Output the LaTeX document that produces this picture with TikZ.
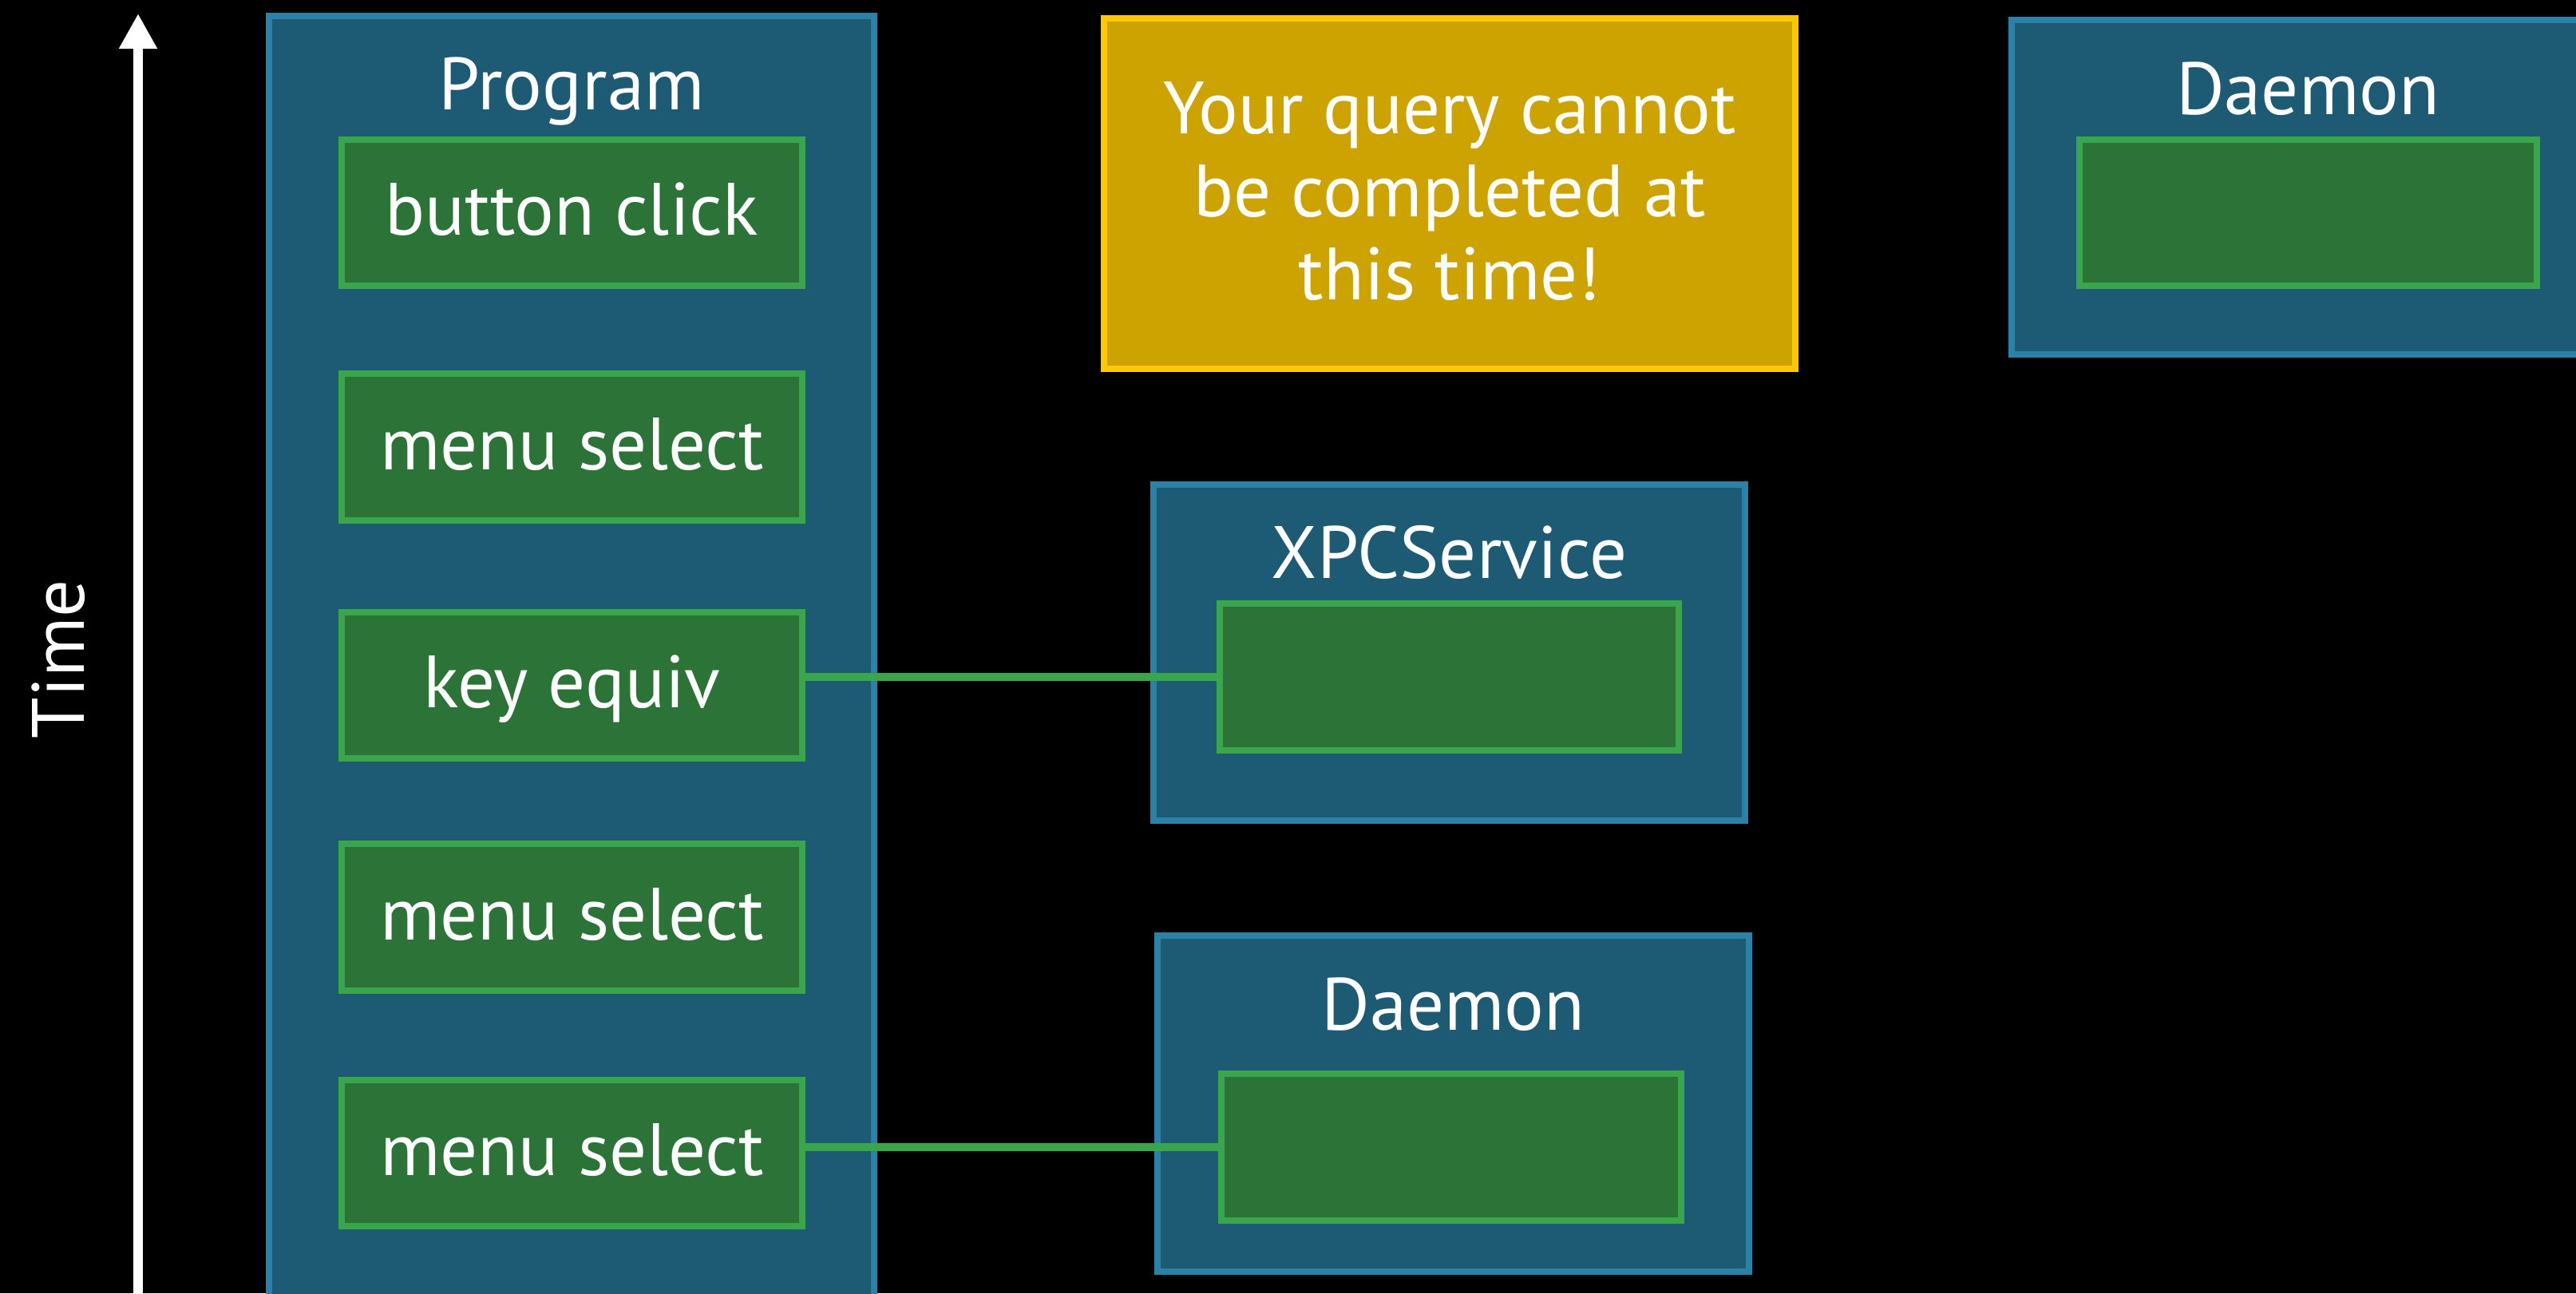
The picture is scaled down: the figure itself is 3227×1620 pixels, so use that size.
\documentclass[tikz,border=0pt]{standalone}
\usepackage{fontspec}
\setmainfont{PT Sans}
\usetikzlibrary{arrows.meta}
\definecolor{bfill}{HTML}{1D5B75}
\definecolor{bline}{HTML}{2A82A8}
\definecolor{gfill}{HTML}{2C7337}
\definecolor{gline}{HTML}{3AA64B}
\definecolor{yfill}{HTML}{CCA300}
\definecolor{yline}{HTML}{FEC900}
\tikzset{
  txt/.style={text=white, font=\fontsize{26.4}{29.6}\selectfont, inner sep=0pt},
  procbox/.style={draw=bline, fill=bfill, line width=0.08cm, inner sep=0pt},
  evbox/.style={draw=gline, fill=gfill, line width=0.08cm, inner sep=0pt,
    minimum width=5.76cm, minimum height=1.83cm, txt,
    text height=19.5pt, text depth=3.5pt},
  alertbox/.style={draw=yline, fill=yfill, line width=0.08cm, inner sep=0pt},
  link/.style={draw=gline, line width=0.1cm},
  timearrow/.style={draw=white, line width=0.11cm, -{Triangle[width=0.45cm,length=0.44cm]}},
}
\begin{document}
\begin{tikzpicture}[x=0.01cm, y=-0.01cm]
\path[use as bounding box, fill=black] (0,0) rectangle (3227,1620);
\clip (0,0) rectangle (3227,1620);

% time axis
\coordinate (tbot) at (173,1660);
\coordinate (ttop) at (173,17);
\draw[timearrow] (tbot) -- (ttop);
\node[txt, rotate=90, anchor=base] (timelbl) at (105,825.5) {Time};

% Program column
\node[procbox, minimum width=7.58cm, minimum height=16.36cm] (prog) at (716,838) {};
\node[txt, anchor=base] (progt) at (716,137) {Program};
\node[evbox] (bc)  at (716.5,266.5) {button click};
\node[evbox] (ms1) at (716.5,560)   {menu select};
\node[evbox] (ke)  at (716.5,858.5) {key equiv};
\node[evbox] (ms2) at (716.5,1149)  {menu select};
\node[evbox] (ms3) at (716.5,1444.5){menu select};

% alert
\node[alertbox, minimum width=8.66cm, minimum height=4.39cm] (alert) at (1816,242.5) {};
\node[txt, anchor=base] (alertt) at (1816,167)
  {\begin{tabular}[t]{@{}c@{}}Your query cannot\\be completed at\\this time!\end{tabular}};

% XPCService
\node[procbox, minimum width=7.41cm, minimum height=4.21cm] (xpc) at (1815.5,817.5) {};
\node[txt, anchor=base] (xpct) at (1815.5,724) {XPCService};
\node[evbox, minimum width=5.75cm, minimum height=1.84cm] (xin) at (1815.5,848) {};

% Daemon (bottom)
\node[procbox, minimum width=7.41cm, minimum height=4.21cm] (dmn) at (1820.5,1382.5) {};
\node[txt, anchor=base] (dmnt) at (1820.5,1290) {Daemon};
\node[evbox, minimum width=5.76cm, minimum height=1.84cm] (dmin) at (1818,1437) {};

% Daemon (top right)
\node[procbox, minimum width=7.42cm, minimum height=4.19cm] (dmn2) at (2891,234.5) {};
\node[txt, anchor=base] (dmn2t) at (2891,143) {Daemon};
\node[evbox, minimum width=5.73cm, minimum height=1.83cm] (dmin2) at (2891.5,266.5) {};

% connectors
\draw[link] (xin.west) -- (xin.west -| ke.east);
\draw[link] (dmin.west) -- (dmin.west -| ms3.east);
\end{tikzpicture}
\end{document}
